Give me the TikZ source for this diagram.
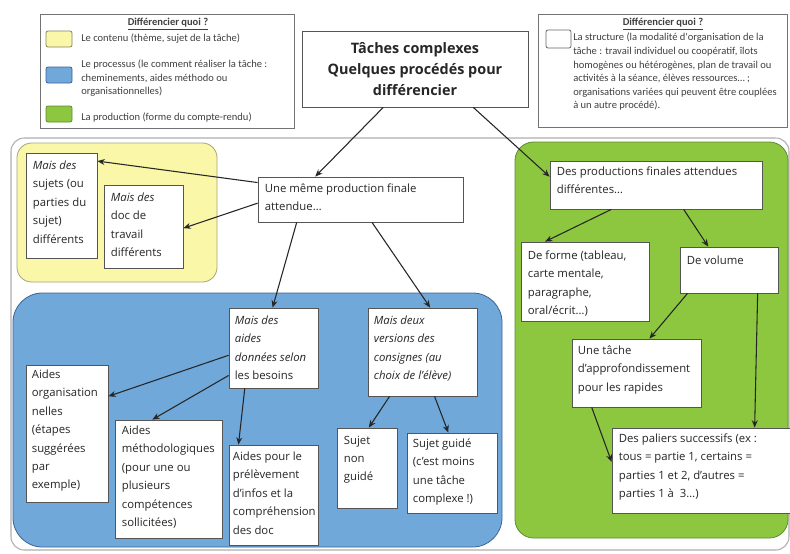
\documentclass[tikz,border=0pt]{standalone}
\usepackage{fontspec}
\setmainfont{Open Sans}
\newfontfamily\legfont{Carlito}
\usetikzlibrary{calc,fit,arrows.meta}
\definecolor{yel}{RGB}{250,247,168}
\definecolor{yelb}{RGB}{165,165,120}
\definecolor{blu}{RGB}{112,168,218}
\definecolor{blub}{RGB}{60,100,150}
\definecolor{grn}{RGB}{141,198,63}
\definecolor{grnb}{RGB}{95,140,50}
\definecolor{frm}{RGB}{175,175,175}
\definecolor{bxd}{RGB}{85,85,85}
\begin{document}
\begin{tikzpicture}[x=0.75pt,y=-0.75pt,
 bx/.style={draw=bxd, fill=white, line width=0.6pt, inner sep=0pt},
 tx/.style={anchor=north west, inner sep=0pt, align=left, font=\fontsize{8.5}{13.8}\selectfont, text=black!85},
 arr/.style={-{Stealth[length=5.5pt,width=4.5pt]}, line width=0.8pt, draw=black!85},
 lt/.style={inner sep=0pt, align=left, font=\legfont\fontsize{7.9}{10.2}\selectfont, text=black!75},
 lbx/.style={draw=black!55, fill=white, line width=0.6pt, inner sep=0pt},
 sw/.style={rounded corners=1.5pt, line width=0.6pt, inner sep=0pt}]

\useasboundingbox (0,0) rectangle (790,554);
\fill[white] (0,0) rectangle (790,554);

% outer frame and coloured regions
\draw[frm, line width=0.8pt, rounded corners=10pt] (11,138) rectangle (789,550);
\draw[fill=yel, draw=yelb, line width=0.6pt, rounded corners=11pt] (17,143) rectangle (217,282);
\draw[fill=blu, draw=blub, line width=0.6pt, rounded corners=22pt] (13,293) rectangle (502,547);
\draw[fill=grn, draw=grnb, line width=0.6pt, rounded corners=14pt] (515,142) rectangle (788,538);

% left legend
\node[lbx, fit={(40,14)(294,128)}] (L) {};
\node[lt, font=\legfont\bfseries\fontsize{7.9}{9}\selectfont] (Lt) at (168,24) {\underline{Différencier quoi ?}};
\node[sw, fill=yel, draw=yelb!80!black, fit={(46,31)(72,47)}] (sy) {};
\node[sw, fill=blu, draw=blub, fit={(46,67)(72,83)}] (sb) {};
\node[sw, fill=grn, draw=grnb, fit={(46,106)(72,122)}] (sg) {};
\node[lt, anchor=west] (ly) at (81,39) {Le contenu (thème, sujet de la tâche)};
\node[lt, anchor=north west] (lb) at (81,59.5) {Le processus (le comment réaliser la tâche :\\cheminements, aides méthodo ou\\organisationnelles)};
\node[lt, anchor=west] (lg) at (81,117) {La production (forme du compte-rendu)};

% right legend
\node[lbx, fit={(538,14)(787,127)}] (R) {};
\node[lt, font=\legfont\bfseries\fontsize{7.9}{9}\selectfont] (Rt) at (663,24) {\underline{Différencier quoi ?}};
\node[sw, fill=white, draw=black!60, fit={(546,30)(571,48)}] (sw) {};
\node[lt, anchor=north west] (rs) at (573,33) {La structure (la modalité d'organisation de la\\tâche : travail individuel ou coopératif, îlots\\homogènes ou hétérogènes, plan de travail ou\\activités à la séance, élèves ressources… ;\\organisations variées qui peuvent être couplées\\à un autre procédé).};

% title
\node[bx, fit={(302,31)(528,107)}] (T) {};
\node[align=center, inner sep=0pt, font=\bfseries\fontsize{10.8}{15.75}\selectfont, text=black!85] (Tt) at (T.center) {Tâches complexes\\Quelques procédés pour\\différencier};

% boxes
\node[bx, fit={(26,153)(97,258)}] (S1) {};
\node[tx] (S1t) at ($(S1.north west)+(7,8)$) {\textit{Mais des}\\sujets (ou\\parties du\\sujet)\\différents};
\node[bx, fit={(104,185)(183,268)}] (S2) {};
\node[tx] (S2t) at ($(S2.north west)+(7,8)$) {\textit{Mais des}\\doc de\\travail\\différents};
\node[bx, fit={(258,177)(463,222)}] (U) {};
\node[tx] (Ut) at ($(U.north west)+(7,7)$) {Une même production finale\\attendue…};
\node[bx, fit={(550,161)(762,209)}] (D) {};
\node[tx] (Dt) at ($(D.north west)+(7,6)$) {Des productions finales attendues\\différentes…};
\node[bx, fit={(521,242)(649,321)}] (F) {};
\node[tx] (Ft) at ($(F.north west)+(7,9)$) {De forme (tableau,\\carte mentale,\\paragraphe,\\oral/écrit…)};
\node[bx, fit={(680,247)(778,293)}] (Vo) {};
\node[tx] (Vot) at ($(Vo.north west)+(7,9)$) {De volume};
\node[bx, fit={(572,339)(701,407)}] (Ta) {};
\node[tx] (Tat) at ($(Ta.north west)+(6,7)$) {Une tâche\\d'approfondissement\\pour les rapides};
\node[bx, fit={(612,428)(790,513)}] (P) {};
\node[tx] (Pt) at ($(P.north west)+(7,6)$) {Des paliers successifs (ex :\\tous = partie 1, certains =\\parties 1 et 2, d'autres =\\parties 1 à\ \ 3…)};
\node[bx, fit={(229,308)(318,388)}] (A) {};
\node[tx] (At) at ($(A.north west)+(6,8)$) {\textit{Mais des}\\\textit{aides}\\\textit{données selon}\\les besoins};
\node[bx, fit={(26,365)(108,502)}] (O) {};
\node[tx] (Ot) at ($(O.north west)+(6,5)$) {Aides\\organisation\\nelles\\(étapes\\suggérées\\par\\exemple)};
\node[bx, fit={(115,420)(222,538)}] (M) {};
\node[tx] (Mt) at ($(M.north west)+(7,6)$) {Aides\\méthodologiques\\(pour une ou\\plusieurs\\compétences\\sollicitées)};
\node[bx, fit={(229,445)(318,545)}] (Q) {};
\node[tx] (Qt) at ($(Q.north west)+(4,7)$) {Aides pour le\\prélèvement\\d'infos et la\\compréhension\\des doc};
\node[bx, fit={(368,308)(477,396)}] (V) {};
\node[tx] (Vt) at ($(V.north west)+(6,8)$) {\textit{Mais deux}\\\textit{versions des}\\\textit{consignes (au}\\\textit{choix de l'élève)}};
\node[bx, fit={(337,428)(397,508)}] (N) {};
\node[tx] (Nt) at ($(N.north west)+(7,8)$) {Sujet\\non\\guidé};
\node[bx, fit={(407,433)(497,513)}] (G) {};
\node[tx] (Gt) at ($(G.north west)+(6,6)$) {Sujet guidé\\(c'est moins\\une tâche\\complexe !)};

% arrows
\draw[arr] ($(T.south west)!0.36!(T.south east)$) -- ($(U.north west)!0.28!(U.north east)$);
\draw[arr] ($(T.south west)!0.757!(T.south east)$) -- ($(D.north west)!0.33!(D.south west)$);
\draw[arr] ($(U.north west)!0.13!(U.south west)$) -- ($(S1.north east)!0.08!(S1.south east)$);
\draw[arr] ($(U.north west)!0.58!(U.south west)$) -- ($(S2.north east)!0.52!(S2.south east)$);
\draw[arr] ($(U.south west)!0.19!(U.south east)$) -- ($(A.north west)!0.49!(A.north east)$);
\draw[arr] ($(U.south west)!0.556!(U.south east)$) -- ($(V.north west)!0.57!(V.north east)$);
\draw[arr] ($(D.south west)!0.29!(D.south east)$) -- ($(F.north west)!0.19!(F.north east)$);
\draw[arr] ($(D.south west)!0.63!(D.south east)$) -- ($(Vo.north west)!0.29!(Vo.north east)$);
\draw[arr] ($(Vo.south west)!0.08!(Vo.south east)$) -- ($(Ta.north west)!0.6!(Ta.north east)$);
\draw[arr] ($(Vo.south west)!0.79!(Vo.south east)$) -- ($(P.north west)!0.80!(P.north east)$);
\draw[arr] ($(Ta.south west)!0.155!(Ta.south east)$) -- ($(P.north west)!0.4!(P.south west)$);
\draw[arr] ($(A.north west)!0.59!(A.south west)$) -- ($(O.north east)!0.23!(O.south east)$);
\draw[arr] ($(A.north west)!0.84!(A.south west)$) -- ($(M.north west)!0.35!(M.north east)$);
\draw[arr] ($(A.south west)!0.18!(A.south east)$) -- ($(Q.north west)!0.11!(Q.north east)$);
\draw[arr] ($(V.south west)!0.2!(V.south east)$) -- ($(N.north west)!0.53!(N.north east)$);
\draw[arr] ($(V.south west)!0.61!(V.south east)$) -- ($(G.north west)!0.46!(G.north east)$);
\end{tikzpicture}
\end{document}
